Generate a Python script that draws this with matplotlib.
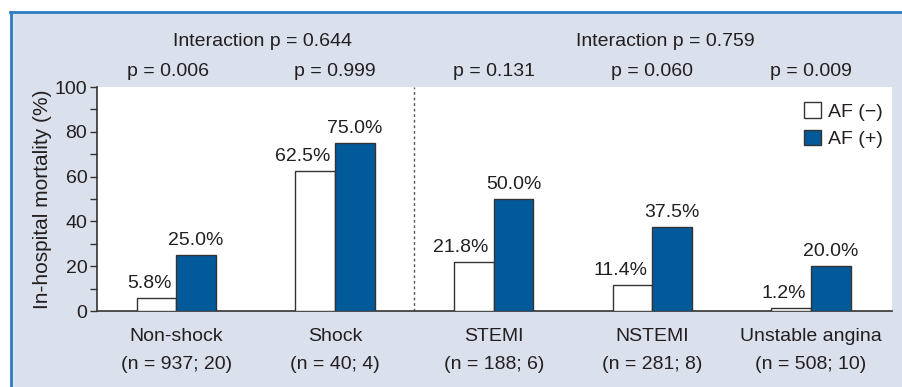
import matplotlib
matplotlib.use("Agg")
import matplotlib.pyplot as plt
from matplotlib.patches import Rectangle
from matplotlib.lines import Line2D
import matplotlib.transforms as mtransforms
import numpy as np

plt.rcParams['font.family'] = ['Liberation Sans', 'DejaVu Sans']

# Data
categories = ["Non-shock", "Shock", "STEMI", "NSTEMI", "Unstable angina"]
group_sizes = ["(n = 937; 20)", "(n = 40; 4)", "(n = 188; 6)", "(n = 281; 8)", "(n = 508; 10)"]
af_neg = [5.8, 62.5, 21.8, 11.4, 1.2]
af_pos = [25.0, 75.0, 50.0, 37.5, 20.0]
p_values = ["p = 0.006", "p = 0.999", "p = 0.131", "p = 0.060", "p = 0.009"]
interaction_labels = ["Interaction p = 0.644", "Interaction p = 0.759"]
series_labels = ["AF (\u2212)", "AF (+)"]

PANEL = "#dbe0ed"
BORDER = "#2f7dc0"
BLUE = "#035a9b"
EDGE = "#333333"
TEXT = "#231f20"
FS = 14

W, H = 902, 387
fig = plt.figure(figsize=(W / 100, H / 100), dpi=100)
fig.patch.set_facecolor("white")

# Background panel with blue left/top rule
fig.add_artist(Rectangle((10 / W, 0), 1 - 10 / W, 1 - 12 / H, transform=fig.transFigure,
                         facecolor=PANEL, edgecolor="none", zorder=0))
fig.add_artist(Line2D([10.5 / W, 10.5 / W], [0, 1 - 12 / H], transform=fig.transFigure,
                      color=BORDER, lw=2, zorder=1))
fig.add_artist(Line2D([10 / W, 1], [1 - 12 / H, 1 - 12 / H], transform=fig.transFigure,
                      color=BORDER, lw=2, zorder=1))

ax = fig.add_axes([97 / W, 1 - 311 / H, (892 - 97) / W, (311 - 87) / H])
ax.set_facecolor("white")

x = np.arange(len(categories))
bw = 0.25
ax.bar(x - bw / 2, af_neg, bw, color="white", edgecolor=EDGE, linewidth=1, label=series_labels[0], zorder=3)
ax.bar(x + bw / 2, af_pos, bw, color=BLUE, edgecolor=EDGE, linewidth=1, label=series_labels[1], zorder=3)

# Value labels
for xi, v in zip(x, af_neg):
    ax.text(xi, v, f"{v:.1f}%", ha="right", va="bottom", fontsize=FS, color=TEXT,
            transform=mtransforms.offset_copy(ax.transData, fig=fig, x=-5, y=6, units="dots"))
for xi, v in zip(x, af_pos):
    ax.text(xi + bw / 2, v, f"{v:.1f}%", ha="center", va="bottom", fontsize=FS, color=TEXT,
            transform=mtransforms.offset_copy(ax.transData, fig=fig, x=0, y=6, units="dots"))

ax.axvline(1.5, color="#555555", lw=1, ls=(0, (2, 2)), zorder=2)

ax.set_xlim(-0.5, 4.51)
ax.set_ylim(0, 100)
ax.set_yticks(np.arange(0, 101, 20))
ax.set_yticks(np.arange(10, 100, 20), minor=True)
ax.tick_params(axis="y", which="both", direction="out", length=5, width=1, color=EDGE,
               labelsize=FS, labelcolor=TEXT, pad=2)
ax.set_xticks(x)
ax.set_xticklabels([f"{c}\n{n}" for c, n in zip(categories, group_sizes)],
                   fontsize=FS, color=TEXT, linespacing=1.9)
ax.tick_params(axis="x", length=0, pad=12)
for s in ["top", "right"]:
    ax.spines[s].set_visible(False)
for s in ["left", "bottom"]:
    ax.spines[s].set_color(EDGE)
    ax.spines[s].set_linewidth(1.2)

ax.set_ylabel("In-hospital mortality (%)", fontsize=15, color=TEXT, labelpad=2)

# p-values and interaction tests above the plot
tr = mtransforms.blended_transform_factory(ax.transData, fig.transFigure)
for xi, p in zip(x, p_values):
    ax.text(xi - 0.05 if xi == 0 else xi, 1 - 71 / H, p, transform=tr, ha="center", va="center",
            fontsize=FS, color=TEXT)
ax.text(0.54, 1 - 41 / H, interaction_labels[0], transform=tr, ha="center", va="center",
        fontsize=FS, color=TEXT)
ax.text(3.08, 1 - 41 / H, interaction_labels[1], transform=tr, ha="center", va="center",
        fontsize=FS, color=TEXT)

ax.legend(loc="upper right", bbox_to_anchor=(1.0, 0.97), frameon=False, fontsize=FS,
          handlelength=0.85, handleheight=0.85, handletextpad=0.4, labelspacing=0.45,
          borderaxespad=0.05, labelcolor=TEXT)

fig.savefig("out.png", dpi=100)
